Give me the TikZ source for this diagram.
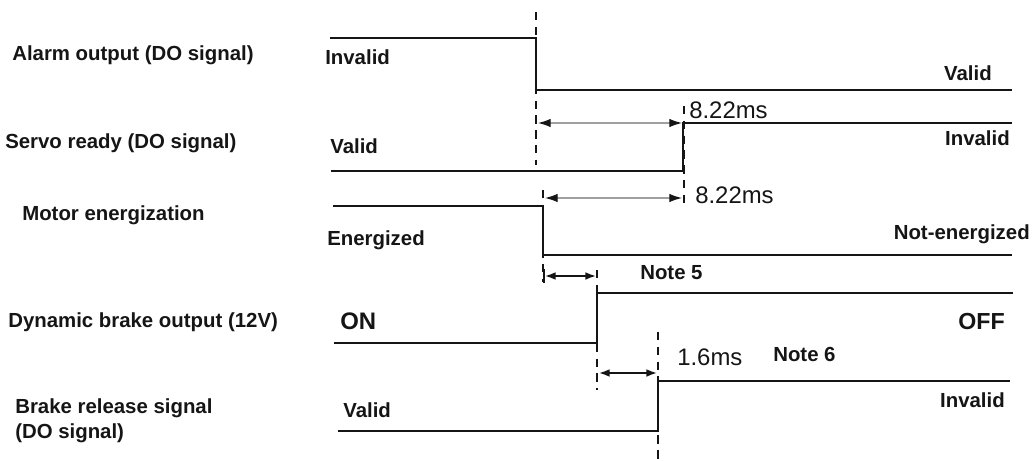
\documentclass[tikz,border=0pt]{standalone}
\usepackage{fontspec}
\setmainfont{Liberation Sans}
\usetikzlibrary{arrows.meta,positioning,calc}
\definecolor{ink}{HTML}{151515}
\definecolor{dimgray}{HTML}{A0A0A0}
\tikzset{
  sigline/.style={line width=1.6pt,color=ink,line join=miter},
  guide/.style={line width=1.4pt,color=ink,dash pattern=on 6pt off 4.5pt},
  dimlong/.style={{Latex[length=9pt,width=6pt,color=ink]}-{Latex[length=9pt,width=6pt,color=ink]},line width=0.8pt,color=dimgray},
  dimshort/.style={{Latex[length=7.5pt,width=5.5pt]}-{Latex[length=7.5pt,width=5.5pt]},line width=1.2pt,color=ink},
  signame/.style={font=\fontsize{14.5}{18}\selectfont\bfseries,anchor=west,align=left,inner sep=0pt,text=ink},
  state/.style={font=\fontsize{14.5}{18}\selectfont\bfseries,inner sep=0pt,text=ink},
  tval/.style={font=\fontsize{17}{20}\selectfont,inner sep=0pt,anchor=west,text=ink},
}

\begin{document}
\begin{tikzpicture}[x=0.025cm,y=-0.025cm]
  \useasboundingbox (0,0) rectangle (1035,461);
  % signal names
  \node[signame] (nAlarm) at (12,55) {Alarm output (DO signal)};
  \node[signame] (nServo) at (5,143) {Servo ready (DO signal)};
  \node[signame] (nMotor) at (22,215) {Motor energization};
  \node[signame] (nDyn) at (8,322) {Dynamic brake output (12V)};
  \node[signame] (nBrake) at (15,421) {Brake release signal\\(DO signal)};
  % waveforms
  \draw[sigline] (330,38) -- (536,38) -- (536,90) -- (1012,90);
  \draw[sigline] (331,171) -- (683,171) -- (683,123) -- (1012,123);
  \draw[sigline] (333,206) -- (543,206) -- (543,255) -- (1012,255);
  \draw[sigline] (334,343) -- (597,343) -- (597,293) -- (1013,293);
  \draw[sigline] (338,431) -- (658,431) -- (658,381) -- (1010,381);
  % dashed guides
  \draw[guide] (536,12) -- (536,165);
  \draw[guide] (684,106) -- (684,207);
  \draw[guide] (543,190) -- (543,282);
  \draw[guide] (597,270) -- (597,390);
  \draw[guide] (658,332) -- (658,461);
  % states
  \node[state,anchor=west] (sA1) at (325,57) {Invalid};
  \node[state,anchor=east] (sA2) at (992,73) {Valid};
  \node[state,anchor=west] (sS1) at (330,146) {Valid};
  \node[state,anchor=east] (sS2) at (1010,138) {Invalid};
  \node[state,anchor=west] (sM1) at (327,240) {Energized};
  \node[state,anchor=east] (sM2) at (1030,234) {Not-energized};
  \node[tval,font=\fontsize{17}{20}\selectfont\bfseries] (sD1) at (340,321) {ON};
  \node[tval,font=\fontsize{16.5}{20}\selectfont\bfseries,anchor=east] (sD2) at (1005,322) {OFF};
  \node[state,anchor=west] (sB1) at (343,410) {Valid};
  \node[state,anchor=east] (sB2) at (1005,400) {Invalid};
  % timing
  \coordinate (d1a) at (538,123); \coordinate (d1b) at (682,123);
  \coordinate (d2a) at (545,198); \coordinate (d2b) at (682,198);
  \coordinate (d3a) at (545,276); \coordinate (d3b) at (596,276);
  \coordinate (d4a) at (599,373); \coordinate (d4b) at (657,373);
  \draw[dimlong] (d1a) -- (d1b);
  \draw[dimlong] (d2a) -- (d2b);
  \draw[dimshort] (d3a) -- (d3b);
  \draw[dimshort] (d4a) -- (d4b);
  \draw[line width=1.2pt,color=ink] (544,269) -- (544,283);
  \node[tval] (t1) at (689,110) {8.22ms};
  \node[tval] (t2) at (695,195) {8.22ms};
  \node[tval] (t3) at (677,357) {1.6ms};
  \node[state,anchor=west] (note5) at (640,273) {Note 5};
  \node[state,anchor=west] (note6) at (773,354) {Note 6};
\end{tikzpicture}
\end{document}
